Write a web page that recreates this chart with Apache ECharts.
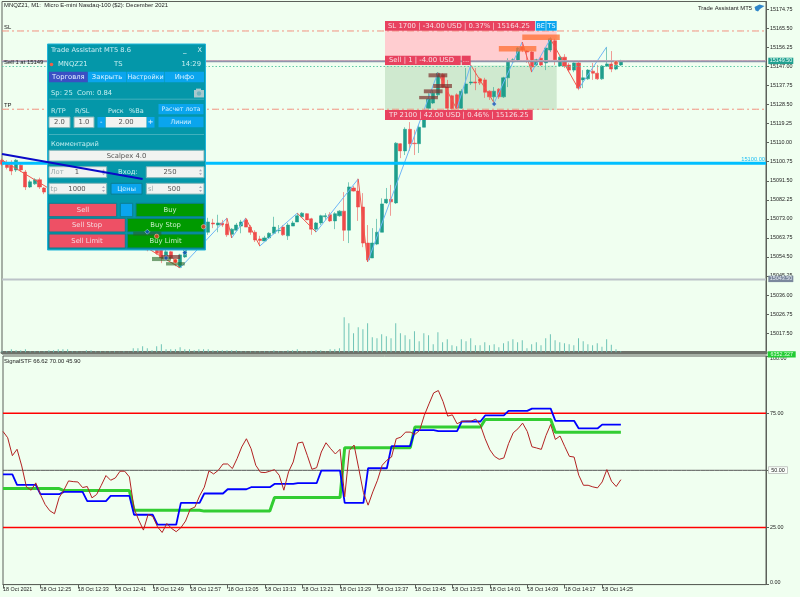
<!DOCTYPE html>
<html>
<head>
<meta charset="utf-8">
<style>html,body{margin:0;padding:0;background:#f0fff0}#c{width:800px;height:597px}</style>
<script src="https://cdn.jsdelivr.net/npm/echarts@6/dist/echarts.min.js"></script>
</head>
<body>
<div id="c"></div>
<script>
const opens=[15101.5,15100,15099,15096.75,15099,15095.75,15088.5,15090,15092,15088,
15087,15084,15080.75,15083,15078,15075,15077.25,15073.5,15070,15072,
15074.5,15070,15066.5,15069,15065.25,15063.25,15066,15068.5,15064.75,15061.75,
15064.25,15060.75,15058,15059.75,15058,15054.5,15057,15053.5,15049.5,15054.5,
15059.25,15064.75,15062.75,15066.5,
15066.5,15071,15070,15071,15070.5,15065.5,
15067.5,15069.5,15072.5,15069,15066.5,15063.25,15062.25,15063.75,15066,15067.25,
15069,15064.75,15069.5,15071.5,15074,15075.5,15073,15068,15071,15074,
15075,15072,15074.5,15076.75,15067.5,15088,15086.5,15078.75,15061.25,15054,
15060.75,15066.5,15080.75,15082.5,15080.75,15109.5,15106,15116.5,15109.75,15109.5,
15117.5,15126.75,15129.25,15133.25,15143,15137,15132.75,15133.25,15126.75,15134,
15139,15139.5,15140.75,15140.5,15135,15132.25,15136,15132.25,15141.5,15149.25,
15149.75,15156.5,15154.5,15154,15147.75,15151,15148.75,15155,15159.5,15147.25,
15151.5,15147.75,15145.25,15148.75,15140.5,15141,15144.75,15143.75,15141,15147.25,15148.25,15145.75,15147.75];
const closes=[15099.5,15098,15096.25,15101.5,15096.75,15088.5,15091,15092,15088.5,15086,
15083,15080.25,15083,15077.25,15074.5,15077.25,15072.5,15069.5,15072.5,15074.5,
15069.5,15066.5,15069,15064.75,15062.75,15066.5,15068.5,15064.25,15061.75,15063.75,
15060.25,15058,15060.25,15056.25,15054,15057,15054,15051.5,15055.5,15060.25,
15063.75,15061.75,15067.5,15070.5,
15071.5,15070.5,15071,15070,15065.25,15068,
15070,15071.5,15069,15066.5,15062.75,15062.5,15063.75,15066,15069,15067.5,
15065.25,15070,15071,15074.5,15075.75,15072.5,15068,15071,15074.5,15074.5,
15072,15075.5,15076.75,15067.5,15088.5,15086.5,15078.75,15061.25,15053,15061.25,
15066.5,15080.25,15082.5,15081.25,15109.75,15106,15116.5,15109.5,15109.5,15117.5,
15121,15131.25,15134,15143.75,15137,15126.75,15126.5,15126.75,15135,15138.5,
15139.5,15139,15139,15134.5,15132.25,15135,15132.25,15141.5,15149.75,15150.25,
15156,15155,15154,15146.75,15150.25,15147.75,15156,15160.5,15150.25,15151.5,
15147.25,15145.25,15148.75,15136.5,15141.5,15145.25,15143.75,15141,15147.25,15148.25,15145.75,15147.75,15149.75];
const lows=[15098.75,15097,15094.25,15095.75,15095.75,15087,15088,15089.5,15087.5,15085,
15082,15079.5,15080,15076.5,15073.5,15074.5,15071.5,15068.5,15069.5,15071.5,
15069,15066,15066,15064.25,15062,15063,15065.5,15063.75,15061,15061.25,
15059.75,15057.25,15057.5,15055.5,15051.5,15053.5,15053,15050,15049.25,15054,
15058.75,15061,15062.25,15066,
15065.25,15068.5,15066.5,15069,15064.25,15063.75,
15067,15066,15069,15065.25,15061.75,15059.75,15062.25,15063.25,15065.5,15066,
15064.75,15062.75,15069.5,15071.5,15074,15072.5,15065.25,15066.5,15070,15072.5,
15071.5,15068,15074,15062.25,15061.25,15086.25,15072,15059.25,15052.5,15054,
15060.25,15066.5,15080.25,15074.5,15080.25,15102.5,15104,15106,15104,15105,
15117.5,15126,15128.75,15132.25,15136.5,15125.75,15126,15126.5,15126.5,15133.5,
15138,15135.5,15138,15131.75,15130.75,15129.75,15131.25,15131.75,15137,15148.75,
15149.25,15154,15148.75,15144.25,15147.25,15147.25,15145.25,15154,15147.75,15146.75,
15146.25,15144.25,15144.25,15135.5,15136.5,15140.5,15140.5,15140.5,15140.5,15146.75,15144.25,15145.25,15147.25];
const highs=[15102.25,15101.5,15101.5,15102,15100,15096.75,15092,15092.75,15093,15088.5,
15088,15085,15084,15084,15079,15078,15078,15074,15073,15075,
15075,15070.5,15069.5,15069.5,15066,15067,15069,15069,15065.25,15064,
15064.75,15061.25,15060.75,15060.25,15058.5,15058,15057.5,15054,15056,15061,
15064.5,15065,15068,15071,
15073.5,15073,15075,15072.5,15073.5,15068.5,
15071,15072.5,15073.5,15070,15067.5,15064.75,15064.75,15066.5,15074,15070,
15070,15071,15072,15075.75,15076.25,15075.75,15073.5,15071.5,15075,15075.75,
15076.25,15076.25,15077.25,15086,15090.75,15089,15092.5,15085.5,15070,15068.5,
15073,15083,15088,15089.5,15110.25,15109.75,15117.5,15120,15116.25,15118.5,
15126,15134,15135.5,15144.25,15143.75,15140.5,15133.25,15134,15136,15146.25,
15147.75,15146.25,15141.75,15141.5,15135.5,15137,15136.5,15142,15151,15151,
15156.5,15158,15155,15154.5,15150.75,15151.5,15156.5,15161.25,15160.5,15152,
15153,15148.75,15149,15149.25,15145.25,15145.75,15148.75,15147.75,15147.75,15156.5,15154.5,15149.25,15150.25];
const volumes=[10,10,30,20,20,30,10,10,10,10,20,20,30,30,30,10,10,5,20,20,
10,10,10,10,10,5,10,5,40,40,60,40,20,60,80,30,30,30,50,30,
30,20,30,30,30,20,20,20,20,20,20,10,10,10,10,10,10,10,20,10,
10,20,20,30,10,10,15,20,20,10,30,30,40,350,290,190,250,230,290,150,
140,180,160,140,290,190,170,130,210,110,190,170,80,200,100,130,70,60,130,110,
140,70,70,100,70,80,50,90,110,130,100,120,40,80,100,70,140,180,120,100,
90,80,70,140,110,80,70,90,55,130,75,30,10];
const blueValues=[48.25,48.25,48.25,43.6,43.6,43.6,43.6,43.6,39.55,39.55,39.55,39.55,39.55,
40.55,40.55,40.55,40.55,40.55,36.5,36.5,36.5,36.5,36.5,38.8,38.8,38.8,38.8,38.8,
30.55,30.55,30.55,30.55,30.55,26.2,26.2,26.2,26.2,26.2,35.75,35.75,35.75,35.75,35.75,
39.85,39.85,39.85,39.85,39.85,41.7,41.7,41.7,41.7,41.7,42.6,42.6,42.6,42.6,42.6,
44.05,44.05,44.05,44.05,44.05,44.35,44.35,44.35,44.35,44.35,49.85,49.85,49.85,49.85,49.85,
35.75,35.75,35.75,35.75,35.75,50.9,50.9,50.9,50.9,50.9,60.6,60.6,60.6,60.6,60.6,
67.6,67.6,67.6,67.6,67.6,67.15,67.15,67.15,67.15,67.15,71.35,71.35,71.35,71.35,71.35,
74,74,74,74,74,76,76,76,76,76,77,77,77,77,77,71.65,71.65,71.65,71.65,71.65,
68.3,68.3,68.3,68.3,68.3,70,70,70,70,70];
const greenValues=[42,42,42,42,42,42,42,42,42,42,42,42,42,
41.15,41.15,41.15,41.15,41.15,41.15,41.15,41.15,41.15,41.15,41.15,41.15,41.15,41.15,41.15,
32.55,32.55,32.55,32.55,32.55,32.55,32.55,32.55,32.55,32.55,32.55,32.55,32.55,32.55,32.55,
32.15,32.15,32.15,32.15,32.15,32.15,32.15,32.15,32.15,32.15,32.15,32.15,32.15,32.15,32.15,
38.1,38.1,38.1,38.1,38.1,38.1,38.1,38.1,38.1,38.1,38.1,38.1,38.1,38.1,38.1,
59.9,59.9,59.9,59.9,59.9,59.9,59.9,59.9,59.9,59.9,59.9,59.9,59.9,59.9,59.9,
68.9,68.9,68.9,68.9,68.9,68.9,68.9,68.9,68.9,68.9,68.9,68.9,68.9,68.9,68.9,
72.25,72.25,72.25,72.25,72.25,72.25,72.25,72.25,72.25,72.25,72.25,72.25,72.25,72.25,72.25,
66.62,66.62,66.62,66.62,66.62,66.62,66.62,66.62,66.62,66.62,66.62,66.62,66.62,66.62,66.62];
const redValues=[67,64.25,56.4,59.2,51.9,42.75,41.3,44.5,39.4,35.05,32.3,31,38.1,41.3,45.35,45.05,44.9,42.45,42.9,37.95,
39.4,43.45,47.7,45.65,46.65,49.6,49.6,47.1,33.3,28.2,23.85,30.7,29.8,25.3,22.8,26.75,24.6,23.15,24.9,27.8,
33,33.9,38.8,42.6,49.75,48.4,50,52.75,52.75,50.75,55.1,60.2,63.8,59.45,52.2,49.15,49,49.6,50.3,47.85,
41.3,49.3,53.65,61.9,62.35,56.55,50.45,51.15,58,62.05,59.45,57.15,59.2,38.4,58.75,61.05,50.75,40.25,34.75,40.55,
45.65,52.2,54.4,55.8,63.8,64.5,66.7,66.7,65.7,67.45,74,79.05,83.85,84.9,80.1,73.7,74.25,70.35,71.35,71.5,
71.5,72.4,69.65,63.8,59,56.1,54.8,55.4,61.65,66.4,68.15,70.65,67,60.3,59.75,59.15,65.25,70.05,63.5,65,
60.45,56.1,55.8,47.85,43.45,43.45,42.75,42.3,44.9,50.3,45.2,42.9,45.9];
const zigzagBars=[0,38,48,49,52,55,63,67,76,78,93,97,100,105,111,113,117,123,129];
const zigzagPrices=[15101.6,15049.15,15073.4,15063.7,15073.4,15059.8,15075.8,15066.6,15092.4,15052.05,15144,15126.35,15147.7,15129.3,15158.9,15144.3,15160.4,15136.1,15156.5];
const trendBars=[0,30];
const trendPrices=[15104.5,15092.4];
const buyDots=[[31,15066.75],[39,15056.55],[35,15054],[105,15128.8]];
const sellDots=[[33,15064.5],[43,15069.2],[37,15052.5],[102,15140.4],[131,15148.7]];
const orangeZones=[[106,114,15157,15154.25],[111,119,15162.6,15159.9]];
const brownZones=[[91,95,15143.7,15141.75],[92,96,15138.5,15136.55],[90,94,15135.9,15134],[89,93,15132.7,15131.1],[34,38,15055.45,15053.5]];
const greenZones=[[32,36,15054.5,15052.5],[35,39,15052,15050.35],[28,34,15066.75,15064.8]];
const priceTicks=[15174.75,15165.5,15156.25,15147,15137.75,15128.5,15119.25,15110,15100.75,15091.5,15082.25,15073,15063.75,15054.5,15045.25,15036,15026.75,15017.5];
const timeTicks=['18 Oct 2021','18 Oct 12:25','18 Oct 12:33','18 Oct 12:41','18 Oct 12:49','18 Oct 12:57','18 Oct 13:05','18 Oct 13:13','18 Oct 13:21','18 Oct 13:29','18 Oct 13:37','18 Oct 13:45','18 Oct 13:53','18 Oct 14:01','18 Oct 14:09','18 Oct 14:17','18 Oct 14:25'];
const slPrice=15164.25, tpPrice=15126.25, bidPrice=15149.5, askPrice=15147, cyanPrice=15100, greyPrice=15043.5;
const upperBand=75, middleBand=50, lowerBand=25;

const FONT='"DejaVu Sans"';
const AXF='"Liberation Sans"';
const cats=[];for(let i=0;i<164;i++)cats.push(String(i));
const candles=opens.map((o,i)=>[o,closes[i],lows[i],highs[i]]);
function legs(dir){const d=[];for(let k=0;k<zigzagBars.length-1;k++){const up=zigzagPrices[k+1]>zigzagPrices[k];
 if(up===dir){d.push([zigzagBars[k],zigzagPrices[k]],[zigzagBars[k+1],zigzagPrices[k+1]],[zigzagBars[k+1],'-']);}}return d;}
const zone=(z,color)=>[{coord:[z[0],z[2]],itemStyle:{color}},{coord:[z[1],z[3]]}];
const level=(name,v,panel,z,lineStyle)=>({name,type:'line',xAxisIndex:panel,yAxisIndex:panel?2:0,data:cats.map(()=>v),showSymbol:false,silent:true,z,lineStyle});

const G=[];
const Z=50;
const rect=(x,y,w,h,fill,stroke,z)=>G.push({type:'rect',z:z||Z,silent:true,shape:{x,y,width:w,height:h},style:{fill,stroke:stroke||null,lineWidth:stroke?1:0}});
const txt=(x,y,s,fill,size,align,font,z)=>G.push({type:'text',z:z||Z,silent:true,x,y,style:{text:s,fill,fontSize:size,fontFamily:font||FONT,align:align||'left',verticalAlign:'middle'}});
const spin=(x,y)=>{G.push({type:'polygon',z:Z,silent:true,shape:{points:[[x,y-1],[x+3,y-1],[x+1.5,y-3]]},style:{fill:'#aab'}});G.push({type:'polygon',z:Z,silent:true,shape:{points:[[x,y+1],[x+3,y+1],[x+1.5,y+3]]},style:{fill:'#aab'}});};

/* trade assistant panel */
const PF='#0497a9',BL='#0aa5ee',FIELD='#f1f3f1',PT='#c4eef0',RED='#ee5065',GRN='#009a00';
const S=6.8;
rect(47.5,44,158,206,PF,'#21b5da');
txt(51,50.7,'Trade Assistant MT5 8.6','#cdeef5',6.7);
txt(183,50.5,'_','#e0f4f6',7);txt(197.5,50.5,'X','#e0f4f6',6.5);
G.push({type:'circle',z:Z,silent:true,shape:{cx:51.5,cy:64.5,r:1.8},style:{fill:'#f0604a'}});
txt(58,64.7,'MNQZ21',PT,S);txt(114,64.7,'TS',PT,S);txt(201,64.7,'14:29',PT,S,'right');
rect(49,71.8,38.7,10.4,'#3a4fc4',null);rect(88,71.8,38,10.4,BL);rect(126.5,71.8,38,10.4,BL);rect(165,71.8,39,10.4,BL);
txt(68.3,77,'Торговля','#e6f2ff',6.8,'center');txt(107,77,'Закрыть','#d8f2ff',6.8,'center');txt(145.5,77,'Настройки','#d8f2ff',6.4,'center');txt(184.5,77,'Инфо','#d8f2ff',6.8,'center');
txt(51,93.7,'Sp: 25  Com: 0.84',PT,S);
rect(194,90,10,7.5,'#a9c8cd');G.push({type:'circle',z:Z,silent:true,shape:{cx:199,cy:93.5,r:2.2},style:{fill:'#6fb4bf'}});rect(196,88.6,5,1.6,'#a9c8cd');
rect(49,98.7,155,0.8,'#54b8c4');
txt(51,111,'R/TP',PT,6.5);txt(75,111,'R/SL',PT,6.5);txt(108,111,'Риск',PT,6.5);txt(129,111,'%Ba',PT,6.5);
rect(158.5,104,45,10.3,BL);txt(181,109.2,'Расчет лота','#d8f2ff',6.2,'center');
rect(158.5,116.7,45,10.6,BL);txt(181,122,'Линии','#d8f2ff',6.2,'center');
rect(49,117,21,10.6,FIELD,'#7fb5b8');txt(59.5,122.4,'2.0','#555',S,'center');
rect(74,117,20,10.6,FIELD,'#7fb5b8');txt(84,122.4,'1.0','#555',S,'center');
rect(97.5,117,7.5,10.6,BL);txt(101.2,122.2,'-','#e6f6ff',6.8,'center');
rect(105.7,117,40.8,10.6,FIELD);txt(126,122.4,'2.00','#555',S,'center');
rect(147,117,7.5,10.6,BL);txt(150.7,122.2,'+','#e6f6ff',6.8,'center');
rect(49,134.2,155,0.8,'#54b8c4');
txt(51,144.3,'Комментарий',PT,6.6);
rect(49,150.3,155,10.7,FIELD,'#7fb5b8');txt(126.5,155.8,'Scalpex 4.0','#555',S,'center');
rect(49,166.7,57.7,11,FIELD,'#7fb5b8');txt(50.5,172.5,'Лот','#9aa',S);txt(77,172.3,'1','#555',S,'center');spin(102,172.3);
txt(118,172.7,'Вход:',PT,S);
rect(146.3,166.7,57.7,11,FIELD,'#7fb5b8');txt(170,172.3,'250','#555',S,'center');spin(199,172.3);
rect(49,183.3,57.7,10.8,FIELD,'#7fb5b8');txt(50.5,189,'tp','#9aa',S);txt(77,189,'1000','#555',S,'center');spin(102,189);
rect(111,183.3,31,10.8,BL,'#0a7f90');txt(126.5,188.8,'Цены','#d8f2ff',6.6,'center');
rect(146.3,183.3,57.7,10.8,FIELD,'#7fb5b8');txt(148,189,'sl','#9aa',S);txt(174,189,'500','#555',S,'center');spin(199,189);
rect(49,203.3,67.7,13.4,RED,'#0a7f90');txt(83,210,'Sell','#f5dbe0',S,'center');
rect(120.3,203.3,12.4,13.4,BL,'#0a7f90');
rect(136,203.3,68,13.4,GRN,'#0a7f90');txt(170,210,'Buy','#c8efc8',S,'center');
rect(49,218.3,76.3,13.7,RED,'#0a7f90');txt(87,225.2,'Sell Stop','#f5dbe0',S,'center');
rect(127.3,218.3,76.7,13.7,GRN,'#0a7f90');txt(165.6,225.2,'Buy Stop','#c8efc8',S,'center');
rect(49,234,76.3,14,RED,'#0a7f90');txt(87,241,'Sell Limit','#f5dbe0',S,'center');
rect(127.3,234,76.7,14,GRN,'#0a7f90');txt(165.6,241,'Buy Limit','#c8efc8',S,'center');

/* trade-line labels */
const TR='#e8425f';
rect(385,21,150,9.7,TR);txt(388,26,'SL 1700 | -34.00 USD | 0.37% | 15164.25','#f7dde2',6.9);
rect(535.7,21,10,9.7,BL);txt(540.7,26,'BE','#e6f6ff',6.4,'center');
rect(546.3,21,10.4,9.7,BL);txt(551.5,26,'TS','#e6f6ff',6.4,'center');
rect(385,55.7,75.7,9.3,TR);txt(389,60.5,'Sell | 1 | -4.00 USD','#f7dde2',6.9);
rect(461.7,55.7,9,9.3,TR);txt(466,60,'...','#f7dde2',6.9,'center');
rect(385,110,147.7,10,TR);txt(389,115.3,'TP 2100 | 42.00 USD | 0.46% | 15126.25','#f7dde2',6.9);

/* chart captions */
const CT='#222';
txt(4,5.7,'MNQZ21, M1:  Micro E-mini Nasdaq-100 ($2): December 2021',CT,5.9,'left',AXF,40);
txt(4,361,'SignalSTF 66.62 70.00 45.90',CT,5.9,'left',AXF,40);
txt(4,27.5,'SL',CT,5.9,'left',AXF,40);
txt(4,105,'TP',CT,5.9,'left',AXF,40);
txt(4,62,'Sell 1 at 15149',CT,5.9,'left',AXF,40);
txt(752,8,'Trade Assistant MT5',CT,5.9,'right',AXF,40);
G.push({type:'polygon',z:40,silent:true,shape:{points:[[754.5,7],[759.5,4.5],[764.5,6],[760,9],[758,11.5],[755.5,10.5]]},style:{fill:'#2f86c9'}});
txt(765,159,'15100.00','#19bdf5',5.7,'right',AXF,40);

/* price tags on the axis */
rect(768.3,57.7,25,6.4,'#22a090',null,40);txt(781,61,'15149.50','#e8fff8',5.4,'center',AXF,41);
rect(768.3,275.7,25,6.4,'#7b889d',null,40);txt(781,279,'15043.50','#e8eef5',5.4,'center',AXF,41);
rect(767.7,351.3,28,6.2,'#22cc33',null,40);txt(781.7,354.5,'6352.327','#e8ffe8',5.4,'center',AXF,41);
rect(768.5,466.7,19,6.8,'#fbfffb','#c4c9c4',40);txt(778,470.3,'50.00','#222',5.4,'center',AXF,41);

const AX='#5c615a';
const option={
 animation:false,backgroundColor:'#f0fff0',
 grid:[
  {left:2,top:1.5,width:764,height:352.5,show:true,borderColor:AX,borderWidth:1,backgroundColor:'transparent'},
  {left:2,top:356,width:764,height:228.6,show:true,borderColor:AX,borderWidth:1,backgroundColor:'transparent'}],
 xAxis:[
  {gridIndex:0,type:'category',data:cats,boundaryGap:false,axisLabel:{show:false},axisTick:{show:false},axisLine:{show:true,lineStyle:{color:'#6d726a',width:3}},splitLine:{show:false}},
  {gridIndex:1,type:'category',data:cats,boundaryGap:false,
   axisLine:{show:true,lineStyle:{color:AX,width:1}},
   axisTick:{show:true,length:4,lineStyle:{color:AX},interval:(i)=>i%8===0&&i<=128},
   axisLabel:{show:true,interval:(i)=>i%8===0&&i<=128,align:'left',margin:2,fontSize:5.4,fontFamily:AXF,color:'#222',formatter:(v,i)=>timeTicks[i/8]||''},
   splitLine:{show:false}}],
 yAxis:[
  {gridIndex:0,type:'value',position:'right',min:15007.36,max:15178.57,scale:true,
   axisLine:{show:true,onZero:false,lineStyle:{color:AX,width:1}},
   axisTick:{show:true,length:3,inside:false,lineStyle:{color:AX},customValues:priceTicks},
   axisLabel:{show:true,margin:4,fontSize:5.4,fontFamily:AXF,color:'#222',customValues:priceTicks,formatter:v=>v.toFixed(2)},
   splitLine:{show:false}},
  {gridIndex:0,type:'value',position:'left',min:-17,max:3508,show:false,splitLine:{show:false}},
  {gridIndex:1,type:'value',position:'right',min:0,max:100,interval:25,
   axisLine:{show:true,lineStyle:{color:AX,width:1}},
   axisTick:{show:true,length:3,lineStyle:{color:AX}},
   axisLabel:{show:true,margin:4,fontSize:5.4,fontFamily:AXF,color:'#222',verticalAlignMinLabel:'bottom',verticalAlignMaxLabel:'top',formatter:v=>v.toFixed(2)},
   splitLine:{show:false}}],
 graphic:{elements:G},
 series:[
  {name:'Volume',type:'bar',xAxisIndex:0,yAxisIndex:1,data:volumes,barWidth:1,itemStyle:{color:'#6fc4b6'},silent:true,z:1},
  {name:'MNQZ21',type:'candlestick',xAxisIndex:0,yAxisIndex:0,data:candles,barWidth:3.6,z:3,silent:true,
   itemStyle:{color:'#1f9e8c',color0:'#ef4a4a',borderColor:'rgba(31,158,140,.55)',borderColor0:'rgba(239,74,74,.55)',borderWidth:1},
   markArea:{silent:true,z:1,data:[
    [{x:385,y:30.7,itemStyle:{color:'#ffcdd0'}},{x:556.7,y:60.5}],
    [{x:385,y:65.5,itemStyle:{color:'#cfe9cf'}},{x:556.7,y:110}]]}},
  level('SL',slPrice,0,5,{color:'#f2907f',width:1,type:[7,3,2,3]}),
  level('TP',tpPrice,0,5,{color:'#f2907f',width:1,type:[7,3,2,3]}),
  level('Bid edge',bidPrice+0.4,0,5,{color:'#f3b8bd',width:1}),
  level('Bid',bidPrice,0,5,{color:'#8f94ac',width:1.6}),
  level('Ask',askPrice,0,5,{color:'#5cc8a4',width:1,type:[1.5,2]}),
  level('Support',cyanPrice,0,5,{color:'#00bfff',width:3}),
  level('Level',greyPrice,0,5,{color:'#bcc3c8',width:2}),
  {name:'ZigZag up',type:'line',xAxisIndex:0,yAxisIndex:0,data:legs(true),showSymbol:false,silent:true,z:4,connectNulls:false,lineStyle:{color:'#6fb6f7',width:1}},
  {name:'ZigZag down',type:'line',xAxisIndex:0,yAxisIndex:0,data:legs(false),showSymbol:false,silent:true,z:4,connectNulls:false,lineStyle:{color:'#f0584e',width:1}},
  {name:'Trend',type:'line',xAxisIndex:0,yAxisIndex:0,data:trendBars.map((b,i)=>[b,trendPrices[i]]),showSymbol:false,silent:true,z:60,lineStyle:{color:'#0a0ac8',width:2},
   markArea:{silent:true,z:60,data:[
    ...orangeZones.map(z=>zone(z,'rgba(255,110,50,.75)')),
    ...brownZones.map(z=>zone(z,'rgba(125,50,45,.7)')),
    ...greenZones.map(z=>zone(z,'rgba(35,100,35,.6)'))]}},
  {name:'Buy points',type:'scatter',xAxisIndex:0,yAxisIndex:0,data:buyDots,symbol:'diamond',symbolSize:5,silent:true,z:61,itemStyle:{color:'#1254b8',borderColor:'#fff',borderWidth:.5}},
  {name:'Sell points',type:'scatter',xAxisIndex:0,yAxisIndex:0,data:sellDots,symbol:'circle',symbolSize:4.5,silent:true,z:61,itemStyle:{color:'#ee3a26',borderColor:'#ffd',borderWidth:.5}},
  level('Upper',upperBand,1,2,{color:'#ff0000',width:1.5}),
  level('Lower',lowerBand,1,2,{color:'#ff0000',width:1.5}),
  level('Middle',middleBand,1,2,{color:'#555',width:1}),
  {name:'Signal green',type:'line',xAxisIndex:1,yAxisIndex:2,data:greenValues,showSymbol:false,silent:true,z:3,lineStyle:{color:'#32cd32',width:3}},
  {name:'Signal blue',type:'line',xAxisIndex:1,yAxisIndex:2,data:blueValues,showSymbol:false,silent:true,z:4,lineStyle:{color:'#0000ff',width:1.8}},
  {name:'Signal red',type:'line',xAxisIndex:1,yAxisIndex:2,data:redValues,showSymbol:false,silent:true,z:5,lineStyle:{color:'#b22222',width:1}}
 ]
};
echarts.init(document.getElementById('c'),null,{renderer:'canvas'}).setOption(option);
</script>
</body>
</html>
